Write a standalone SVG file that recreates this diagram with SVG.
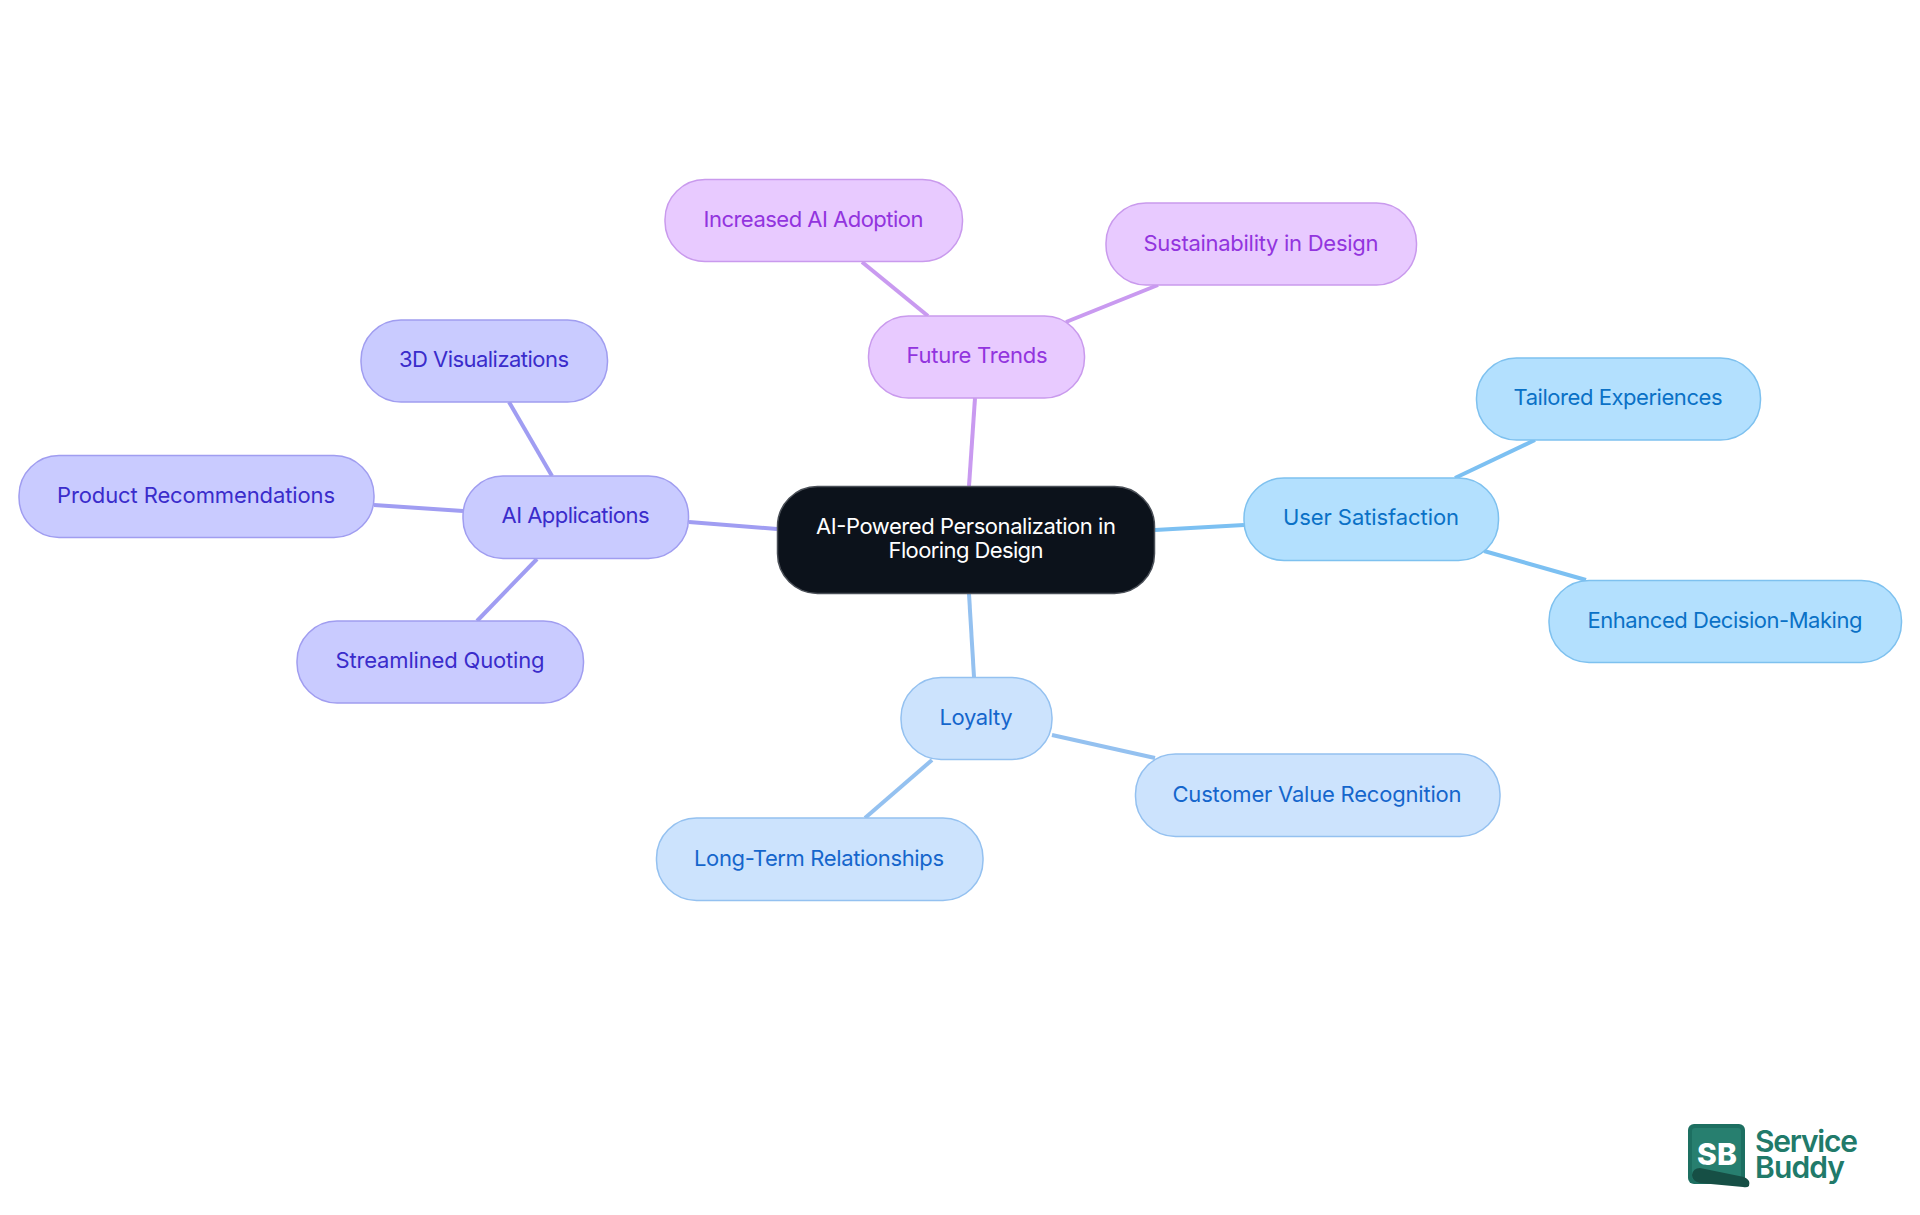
<svg xmlns="http://www.w3.org/2000/svg" width="1920" height="1215" viewBox="0 0 1920 1215">
<style>
text{font-family:Inter,"Noto Sans","Liberation Sans",sans-serif;font-size:22px;text-anchor:middle;font-weight:400}
.n{stroke-width:1.5}
.p rect{fill:#e8caff;stroke:#c99aed}.p text{fill:#9234de}
.b rect{fill:#b3e0fe;stroke:#7ec1ef}.b text{fill:#0a71c6}
.l rect{fill:#cce3fd;stroke:#94c1f0}.l text{fill:#1566cc}
.i rect{fill:#c9cbff;stroke:#a09df0}.i text{fill:#3a2ccb}
#connectors path{fill:none;stroke-width:4}
.cp{stroke:#c99af0}.cb{stroke:#7cc0f2}.cl{stroke:#94c1f0}.ci{stroke:#a09df2}
</style>
<rect width="1920" height="1215" fill="#fff"/>
<g id="connectors">
<path class="cp" d="M969 486L975 398"/><path class="cp" d="M862 262L928 316"/><path class="cp" d="M1066 322L1158 285"/>
<path class="cb" d="M1155 530L1244 525"/><path class="cb" d="M1455 478L1535 440"/><path class="cb" d="M1484 551L1586 580"/>
<path class="cl" d="M969 594L974 677"/><path class="cl" d="M1052 735L1155 758"/><path class="cl" d="M932 760L865 818"/>
<path class="ci" d="M777 529L689 522"/><path class="ci" d="M552 476L509 402"/><path class="ci" d="M463 511L374 505"/><path class="ci" d="M537 559L477 621"/>
</g>
<g id="root"><rect x="777.5" y="486.5" width="377" height="107" rx="40" fill="#0c121b" stroke="#4a4f57" stroke-width="1.5"/><text x="966" y="533.500" fill="#fff" textLength="300">AI-Powered Personalization in</text><text x="966" y="558" fill="#fff" textLength="155">Flooring Design</text></g>
<g id="future" class="p"><rect class="n" x="868.5" y="316" width="216" height="82" rx="40"/><text x="977" y="363" textLength="141">Future Trends</text></g>
<g id="increased" class="p"><rect class="n" x="665" y="179.500" width="297.500" height="82" rx="40"/><text x="813.500" y="227" textLength="220">Increased AI Adoption</text></g>
<g id="sustain" class="p"><rect class="n" x="1106" y="203" width="310.500" height="82" rx="40"/><text x="1261" y="251" textLength="235">Sustainability in Design</text></g>
<g id="user" class="b"><rect class="n" x="1244" y="478" width="254.500" height="82.500" rx="40"/><text x="1371" y="525" textLength="176">User Satisfaction</text></g>
<g id="tailored" class="b"><rect class="n" x="1476.500" y="358" width="284" height="82" rx="40"/><text x="1618" y="405" textLength="209">Tailored Experiences</text></g>
<g id="enhanced" class="b"><rect class="n" x="1549" y="580.500" width="352.500" height="82" rx="40"/><text x="1725" y="628" textLength="275">Enhanced Decision-Making</text></g>
<g id="loyalty" class="l"><rect class="n" x="901" y="677.500" width="151" height="82" rx="40"/><text x="976" y="725" textLength="73">Loyalty</text></g>
<g id="customer" class="l"><rect class="n" x="1135.500" y="754" width="364.500" height="82.500" rx="40"/><text x="1317" y="802" textLength="289">Customer Value Recognition</text></g>
<g id="longterm" class="l"><rect class="n" x="656.500" y="818" width="326.500" height="82.500" rx="40"/><text x="819" y="866" textLength="250">Long-Term Relationships</text></g>
<g id="aiapps" class="i"><rect class="n" x="463" y="476" width="225.500" height="82.500" rx="40"/><text x="575.500" y="523" textLength="148">AI Applications</text></g>
<g id="viz" class="i"><rect class="n" x="361" y="320" width="246.500" height="82" rx="40"/><text x="484" y="367" textLength="170">3D Visualizations</text></g>
<g id="product" class="i"><rect class="n" x="19" y="455.500" width="355" height="82" rx="40"/><text x="196" y="503" textLength="278">Product Recommendations</text></g>
<g id="quoting" class="i"><rect class="n" x="297" y="621" width="286.500" height="82" rx="40"/><text x="440" y="668" textLength="209">Streamlined Quoting</text></g>
<g id="logo">
<rect x="1688" y="1124" width="57" height="60" rx="6" fill="#1d6f61"/>
<rect x="1692" y="1128" width="49" height="52" rx="3" fill="#277f6f"/>
<text x="1717" y="1165" textLength="40" style="font-size:30px;font-weight:800;fill:#fff">SB</text>
<path d="M1700 1168L1744 1177Q1751 1180 1749 1186Q1747 1188 1743 1187L1700 1183Q1692 1181 1692 1175Q1693 1168 1700 1168Z" fill="#164f45"/>
<text style="font-size:30px;font-weight:600;fill:#217a6a;text-anchor:start"><tspan x="1755" y="1152" textLength="103">Service</tspan><tspan x="1755" y="1178" textLength="90">Buddy</tspan></text>
</g>
</svg>
